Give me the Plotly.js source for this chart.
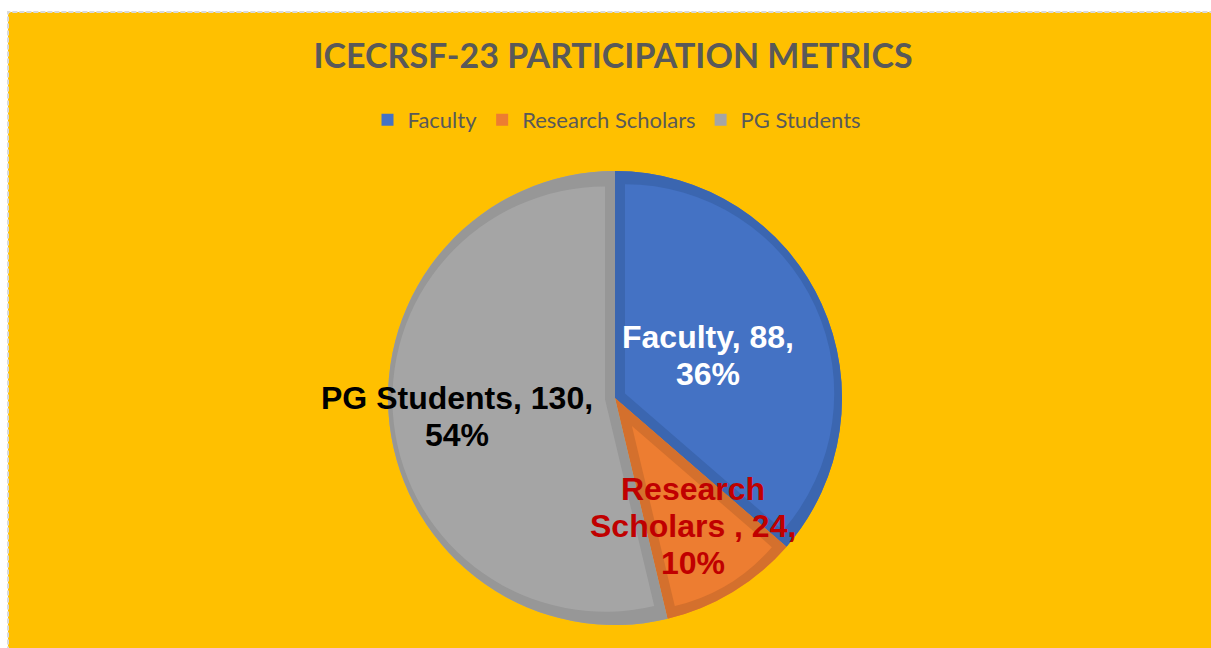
<!DOCTYPE html>
<html>
<head>
<meta charset="utf-8">
<script src="https://cdn.plot.ly/plotly-3.0.1.min.js"></script>
<style>
html, body { margin: 0; padding: 0; overflow: hidden; background: #ffffff; }
#chart { width: 1211px; height: 648px; }
</style>
</head>
<body>
<div id="chart"></div>
<script>
// ---- data ----
const categories = ['Faculty', 'Research Scholars', 'PG Students'];
const values = [88, 24, 130];
const sliceLabelLines = [['Faculty', ''], ['Research', 'Scholars '], ['PG Students', '']];
const chartTitle = 'ICECRSF-23 PARTICIPATION METRICS';

// ---- styles ----
const fillColors = ['#4472C4', '#ED7D31', '#A5A5A5'];
const edgeColors = ['#3B66B0', '#D4702D', '#979797'];
const textColors = ['#FFFFFF', '#C00000', '#000000'];
const labelRadius = [0.45, 0.66, 0.70];   // label distance from centre, fraction of radius

// ---- layout geometry (page pixels) ----
const W = 1211, H = 648;
const CX = 615, CY = 398, R = 227, EDGE = 10, LINE_GAP = 37;

function domainFor(cx, cy, r) {
  return {
    x: [(cx - r) / W, (cx + r) / W],
    y: [(H - cy - r) / H, (H - cy + r) / H]
  };
}

const total = values.reduce((a, b) => a + b, 0);
const clear = 'rgba(0,0,0,0)';
const common = {
  type: 'pie', labels: categories, values: values, sort: false,
  direction: 'clockwise', rotation: 0, hoverinfo: 'skip', showlegend: false,
  textinfo: 'none'
};

const traces = [];
// legend carrier (fully covered by the layers above)
traces.push(Object.assign({}, common, {
  domain: domainFor(CX, CY, R), showlegend: true,
  marker: { colors: fillColors, line: { width: 0 } }
}));
// darker edge pie
traces.push(Object.assign({}, common, {
  domain: domainFor(CX, CY, R),
  marker: { colors: edgeColors, line: { width: 0 } }
}));

// inset lighter slices + labels
const annotations = [];
let cum = 0;
values.forEach((v, i) => {
  const a0 = cum / total * 2 * Math.PI;
  cum += v;
  const a1 = cum / total * 2 * Math.PI;
  const h = (a1 - a0) / 2, phi = (a0 + a1) / 2;
  const s = EDGE / Math.sin(h);
  const cx = CX + s * Math.sin(phi), cy = CY - s * Math.cos(phi);
  const r = R - EDGE - s * (1 + Math.cos(h)) / 2;
  const cols = categories.map((_, j) => j === i ? fillColors[i] : clear);
  traces.push(Object.assign({}, common, {
    domain: domainFor(cx, cy, r),
    marker: { colors: cols, line: { width: 0 } }
  }));

  // label text: "<name>, <value>," then "<pct>%"
  const pct = Math.round(v / total * 100) + '%';
  const nameLines = sliceLabelLines[i].filter(t => t !== '');
  const lines = nameLines.slice(0, -1).concat([nameLines[nameLines.length - 1] + ', ' + v + ',', pct]);
  const lx = CX + labelRadius[i] * R * Math.sin(phi);
  const ly = CY - labelRadius[i] * R * Math.cos(phi);
  lines.forEach((t, k) => {
    annotations.push({
      xref: 'paper', yref: 'paper', x: lx / W, y: 1 - ly / H,
      xanchor: 'center', yanchor: 'middle', showarrow: false,
      yshift: -(k - (lines.length - 1) / 2) * LINE_GAP,
      text: t,
      font: { family: 'Liberation Sans, Arial, sans-serif', size: 32, color: textColors[i], weight: 'bold' }
    });
  });
});

const layout = {
  width: W, height: H,
  margin: { l: 0, r: 0, t: 0, b: 0, pad: 0 },
  paper_bgcolor: '#FFFFFF', plot_bgcolor: 'rgba(0,0,0,0)',
  title: {
    text: chartTitle, x: 613 / W, xanchor: 'center', y: 1 - 56 / H, yanchor: 'middle',
    xref: 'paper', yref: 'paper',
    font: { family: 'Lato, Carlito, sans-serif', size: 34, color: '#595959', weight: 'bold' }
  },
  legend: {
    orientation: 'h', x: 617 / W, xanchor: 'center', y: 1 - 120 / H, yanchor: 'middle',
    font: { family: 'Lato, Carlito, sans-serif', size: 22, color: '#595959' },
    bgcolor: 'rgba(0,0,0,0)'
  },
  annotations: annotations,
  shapes: [{
    type: 'rect', xref: 'paper', yref: 'paper', layer: 'below',
    x0: 8 / W, x1: 1.02, y0: -0.02, y1: 1 - 12 / H,
    fillcolor: '#FFC000', line: { color: '#D9D9D9', width: 2, dash: '5px,2px' }
  }]
};

Plotly.newPlot('chart', traces, layout, { displayModeBar: false, staticPlot: true });
</script>
</body>
</html>
